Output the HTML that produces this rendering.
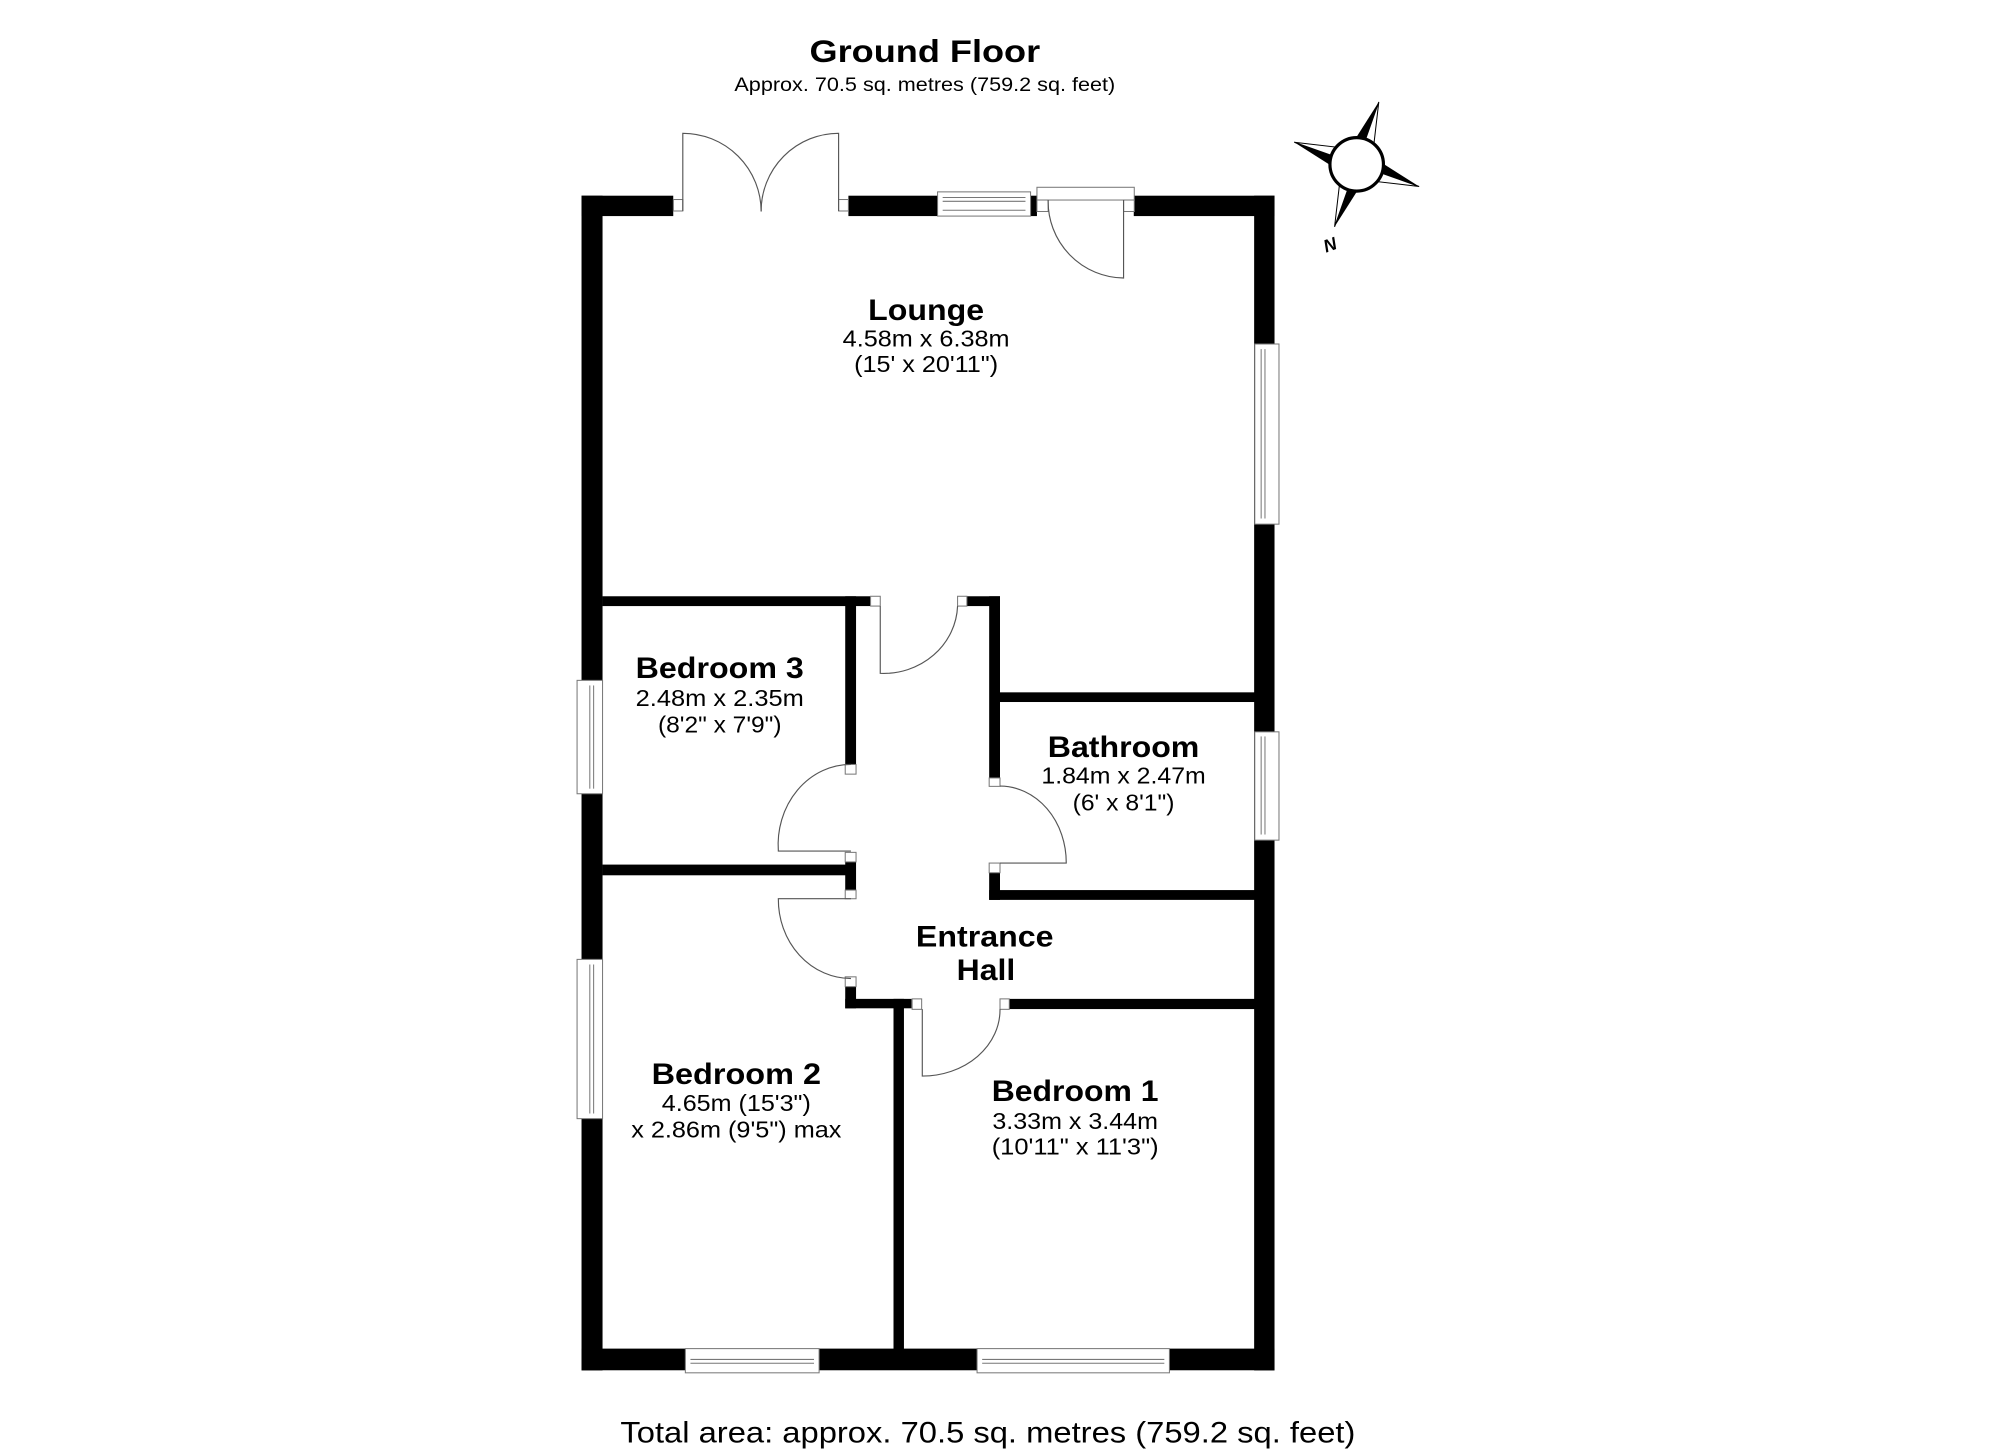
<!DOCTYPE html>
<html><head><meta charset="utf-8"><style>
html,body{margin:0;padding:0;background:#fff;}
svg{display:block;}
text{font-family:"Liberation Sans",Arial,sans-serif;fill:#000;}
.b{font-weight:bold;font-size:23px;}
.s{font-size:18px;}
.fr{fill:#fff;stroke:#777;stroke-width:0.8;}
.arc{fill:none;stroke:#555;stroke-width:0.9;}
</style></head><body>
<svg width="2000" height="1455" viewBox="0 0 1570 1142" preserveAspectRatio="none" xmlns="http://www.w3.org/2000/svg">
<rect width="1570" height="1142" fill="#fff"/>
<text x="726" y="48.5" text-anchor="middle" font-weight="bold" font-size="25" textLength="181" lengthAdjust="spacingAndGlyphs">Ground Floor</text>
<text x="726" y="71.5" text-anchor="middle" font-size="15.5" textLength="299" lengthAdjust="spacingAndGlyphs">Approx. 70.5 sq. metres (759.2 sq. feet)</text>

<!-- outer walls -->
<g fill="#000">
<rect x="456.5" y="153.6" width="72" height="16"/>
<rect x="666" y="153.6" width="70" height="16"/>
<rect x="809" y="153.6" width="5" height="16"/>
<rect x="890" y="153.6" width="110.5" height="16"/>
<rect x="456.5" y="153.6" width="16.5" height="922"/>
<rect x="984.5" y="153.6" width="16" height="922"/>
<rect x="456.5" y="1058.5" width="544" height="17"/>
<!-- interior -->
<rect x="473" y="468" width="210" height="7.7"/>
<rect x="759" y="468" width="26" height="7.7"/>
<rect x="663.5" y="468" width="8.5" height="132"/>
<rect x="776.5" y="468" width="8.5" height="142.6"/>
<rect x="785" y="543.4" width="200" height="7.6"/>
<rect x="663.5" y="676.5" width="8.5" height="22"/>
<rect x="473" y="678.6" width="192" height="8.4"/>
<rect x="663.5" y="774.4" width="8.5" height="17"/>
<rect x="663.5" y="784" width="52" height="7.4"/>
<rect x="701.4" y="784" width="8.2" height="276"/>
<rect x="792.3" y="784" width="193" height="8"/>
<rect x="776.5" y="685" width="8.5" height="21.3"/>
<rect x="776.5" y="698.6" width="208.5" height="7.7"/>
</g>

<!-- door frames -->
<rect class="fr" x="528.6" y="156.6" width="7.4" height="9"/>
<rect class="fr" x="658.3" y="156.6" width="7.7" height="9"/>
<rect class="fr" x="814" y="147" width="76.4" height="10"/>
<rect class="fr" x="814" y="157" width="8.8" height="9"/>
<rect class="fr" x="882" y="157" width="8.4" height="9"/>
<rect class="fr" x="683.4" y="468" width="7.6" height="7.7"/>
<rect class="fr" x="751.7" y="468" width="7.3" height="7.7"/>
<rect class="fr" x="663.5" y="600" width="8.5" height="7.6"/>
<rect class="fr" x="663.5" y="669" width="8.5" height="7.5"/>
<rect class="fr" x="663.5" y="698.6" width="8.5" height="6.8"/>
<rect class="fr" x="663.5" y="766.7" width="8.5" height="7.7"/>
<rect class="fr" x="776.5" y="610.6" width="8.5" height="6.6"/>
<rect class="fr" x="776.5" y="677.4" width="8.5" height="7.6"/>
<rect class="fr" x="716" y="784" width="7.5" height="8.2"/>
<rect class="fr" x="785" y="784" width="7.3" height="8.2"/>

<!-- door leaves and arcs -->
<path class="arc" d="M536 165.6 V104.6 A61.5 61.5 0 0 1 597.5 166"/>
<path class="arc" d="M658.3 165.6 V104.6 A61 61 0 0 0 597.5 166"/>
<path class="arc" d="M882 157 V218.2 A60 60 0 0 1 822.8 157"/>
<path class="arc" d="M691 475.7 V528.5 A58 55 0 0 0 751.7 475.7"/>
<path class="arc" d="M668 600 A57 63 0 0 0 611 668 H668"/>
<path class="arc" d="M668 705.4 H611 A57 62 0 0 0 668 768"/>
<path class="arc" d="M785 617 A52 60 0 0 1 837 677.4 H785"/>
<path class="arc" d="M724 792 V844.6 A61 52 0 0 0 785 792"/>

<!-- windows -->
<g>
<rect class="fr" x="736" y="150.6" width="73" height="19"/>
<line x1="740" y1="155" x2="805" y2="155" stroke="#777" stroke-width="0.8"/>
<line x1="740" y1="158" x2="805" y2="158" stroke="#777" stroke-width="0.8"/>
<line x1="740" y1="165" x2="805" y2="165" stroke="#777" stroke-width="0.8"/>
<rect class="fr" x="985" y="270" width="19" height="141.4"/>
<line x1="990" y1="274" x2="990" y2="407" stroke="#777" stroke-width="0.8"/>
<line x1="993" y1="274" x2="993" y2="407" stroke="#777" stroke-width="0.8"/>
<rect class="fr" x="985" y="574.4" width="19" height="85"/>
<line x1="990" y1="578" x2="990" y2="655" stroke="#777" stroke-width="0.8"/>
<line x1="993" y1="578" x2="993" y2="655" stroke="#777" stroke-width="0.8"/>
<rect class="fr" x="453" y="534" width="20" height="89"/>
<line x1="463" y1="538" x2="463" y2="619" stroke="#777" stroke-width="0.8"/>
<line x1="466" y1="538" x2="466" y2="619" stroke="#777" stroke-width="0.8"/>
<rect class="fr" x="453" y="753" width="20" height="125"/>
<line x1="463" y1="757" x2="463" y2="874" stroke="#777" stroke-width="0.8"/>
<line x1="466" y1="757" x2="466" y2="874" stroke="#777" stroke-width="0.8"/>
<rect class="fr" x="538" y="1058.5" width="105" height="19"/>
<line x1="542" y1="1067" x2="639" y2="1067" stroke="#777" stroke-width="0.8"/>
<line x1="542" y1="1070" x2="639" y2="1070" stroke="#777" stroke-width="0.8"/>
<rect class="fr" x="767" y="1058.5" width="151" height="19"/>
<line x1="771" y1="1067" x2="914" y2="1067" stroke="#777" stroke-width="0.8"/>
<line x1="771" y1="1070" x2="914" y2="1070" stroke="#777" stroke-width="0.8"/>
</g>

<!-- compass -->
<g transform="translate(1065,129)">
<g transform="rotate(-70.5)"><polygon points="52,0 17,-8 14,0" fill="#000"/><polygon points="52,0 17,8 14,0" fill="#fff" stroke="#000" stroke-width="0.8"/></g>
<g transform="rotate(19.5)"><polygon points="52,0 17,-8 14,0" fill="#000"/><polygon points="52,0 17,8 14,0" fill="#fff" stroke="#000" stroke-width="0.8"/></g>
<g transform="rotate(109.5)"><polygon points="52,0 17,-8 14,0" fill="#000"/><polygon points="52,0 17,8 14,0" fill="#fff" stroke="#000" stroke-width="0.8"/></g>
<g transform="rotate(199.5)"><polygon points="52,0 17,-8 14,0" fill="#000"/><polygon points="52,0 17,8 14,0" fill="#fff" stroke="#000" stroke-width="0.8"/></g>
<circle r="21" fill="#fff" stroke="#000" stroke-width="2.5"/>
</g>
<text x="1044" y="197" text-anchor="middle" font-weight="bold" font-style="italic" font-size="14" transform="rotate(-20 1044 192)">N</text>

<!-- labels -->
<text class="b" x="727" y="251" text-anchor="middle" textLength="91" lengthAdjust="spacingAndGlyphs">Lounge</text>
<text class="s" x="727" y="272" text-anchor="middle" textLength="131" lengthAdjust="spacingAndGlyphs">4.58m x 6.38m</text>
<text class="s" x="727" y="292" text-anchor="middle" textLength="113" lengthAdjust="spacingAndGlyphs">(15' x 20'11")</text>

<text class="b" x="565" y="532" text-anchor="middle" textLength="132" lengthAdjust="spacingAndGlyphs">Bedroom 3</text>
<text class="s" x="565" y="554" text-anchor="middle" textLength="132" lengthAdjust="spacingAndGlyphs">2.48m x 2.35m</text>
<text class="s" x="565" y="575" text-anchor="middle" textLength="97" lengthAdjust="spacingAndGlyphs">(8'2" x 7'9")</text>

<text class="b" x="882" y="594" text-anchor="middle" textLength="119" lengthAdjust="spacingAndGlyphs">Bathroom</text>
<text class="s" x="882" y="615" text-anchor="middle" textLength="129" lengthAdjust="spacingAndGlyphs">1.84m x 2.47m</text>
<text class="s" x="882" y="636" text-anchor="middle" textLength="80" lengthAdjust="spacingAndGlyphs">(6' x 8'1")</text>

<text class="b" x="773" y="743" text-anchor="middle" textLength="108" lengthAdjust="spacingAndGlyphs">Entrance</text>
<text class="b" x="774" y="769" text-anchor="middle" textLength="46" lengthAdjust="spacingAndGlyphs">Hall</text>

<text class="b" x="578" y="851" text-anchor="middle" textLength="133" lengthAdjust="spacingAndGlyphs">Bedroom 2</text>
<text class="s" x="578" y="872" text-anchor="middle" textLength="117" lengthAdjust="spacingAndGlyphs">4.65m (15'3")</text>
<text class="s" x="578" y="893" text-anchor="middle" textLength="165" lengthAdjust="spacingAndGlyphs">x 2.86m (9'5") max</text>

<text class="b" x="844" y="864" text-anchor="middle" textLength="131" lengthAdjust="spacingAndGlyphs">Bedroom 1</text>
<text class="s" x="844" y="886" text-anchor="middle" textLength="130" lengthAdjust="spacingAndGlyphs">3.33m x 3.44m</text>
<text class="s" x="844" y="906" text-anchor="middle" textLength="131" lengthAdjust="spacingAndGlyphs">(10'11" x 11'3")</text>

<text x="775.5" y="1132" text-anchor="middle" font-size="23" textLength="577" lengthAdjust="spacingAndGlyphs">Total area: approx. 70.5 sq. metres (759.2 sq. feet)</text>
</svg>
</body></html>
